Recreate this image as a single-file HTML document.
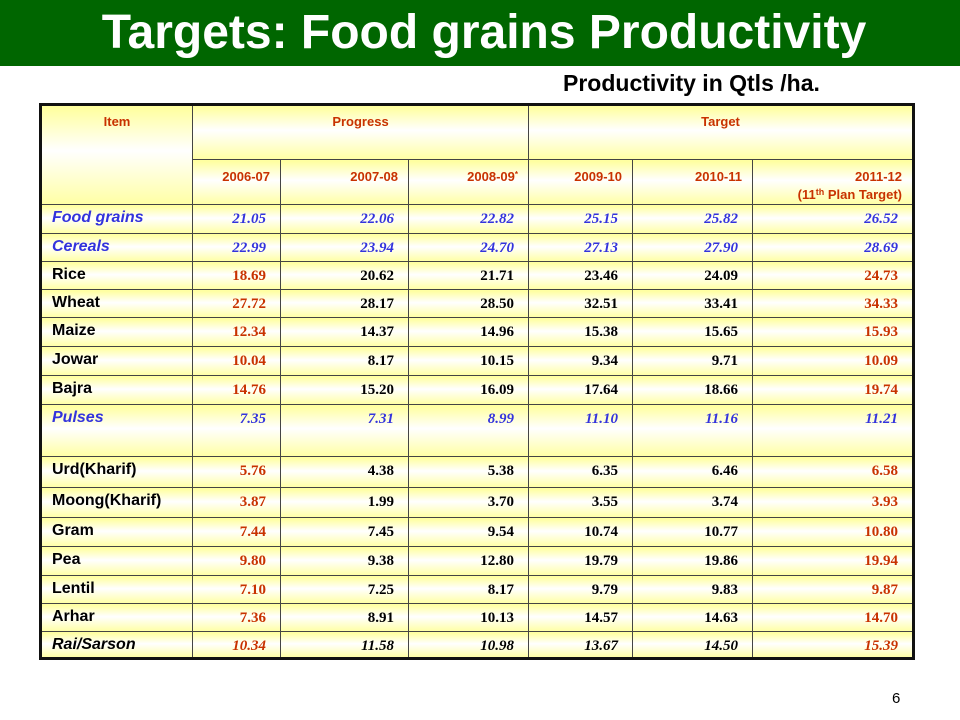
<!DOCTYPE html>
<html><head><meta charset="utf-8">
<style>
body{margin:0;width:960px;height:720px;background:#fff;position:relative;overflow:hidden;font-family:"Liberation Sans",Arial,sans-serif}
#bar{position:absolute;left:0;top:0;width:960px;height:66px;background:#006600}
#title{position:absolute;left:0;top:3px;width:968px;text-align:center;color:#fff;font-weight:bold;font-size:48px;line-height:60px}
#unit{position:absolute;left:563px;top:70px;font-weight:bold;font-size:23px;color:#000;white-space:nowrap}
#pg{position:absolute;left:892px;top:690px;font-size:15px;color:#000}
table{position:absolute;left:39px;top:103px;border-collapse:collapse;border:3px solid #111;table-layout:fixed}
td{border:1.5px solid #444;padding:0;background:linear-gradient(to bottom,#ffff9c 0%,#ffffff 45%,#ffffa4 100%);vertical-align:top}
sup{line-height:0;vertical-align:baseline;position:relative;top:-0.5em}
.h{color:#c83200;font-weight:bold;font-size:13px;text-align:center;padding-top:8px}
.y{color:#c83200;font-weight:bold;font-size:13px;text-align:right;padding:8px 10px 0 0;line-height:18px}
.it{font-weight:bold;font-size:16px;padding:4px 0 0 10px;color:#000;white-space:nowrap}
.n{font-family:"Liberation Serif",serif;font-weight:bold;font-size:15px;text-align:right;padding:6px 14px 0 0;color:#000}
.r{color:#c83200}
.b,.b td{color:#3333dd !important;font-style:italic}
.i td{font-style:italic}
</style></head><body>
<div id="bar"></div>
<div id="title">Targets: Food grains Productivity</div>
<div id="unit">Productivity in Qtls /ha.</div>
<table>
<colgroup><col style="width:152px"><col style="width:88px"><col style="width:128px"><col style="width:120px"><col style="width:104px"><col style="width:120px"><col style="width:161px"></colgroup>
<tr style="height:55px"><td rowspan="2" class="h">Item</td><td colspan="3" class="h">Progress</td><td colspan="3" class="h">Target</td></tr>
<tr style="height:45px"><td class="y">2006-07</td><td class="y">2007-08</td><td class="y">2008-09<sup style="font-size:8px">*</sup></td><td class="y">2009-10</td><td class="y">2010-11</td><td class="y">2011-12<br>(11<sup style="font-size:9px">th</sup> Plan Target)</td></tr>
<tr style="height:29px" class="b"><td class="it">Food grains</td><td class="n">21.05</td><td class="n">22.06</td><td class="n">22.82</td><td class="n">25.15</td><td class="n">25.82</td><td class="n">26.52</td></tr>
<tr style="height:28px" class="b"><td class="it">Cereals</td><td class="n">22.99</td><td class="n">23.94</td><td class="n">24.70</td><td class="n">27.13</td><td class="n">27.90</td><td class="n">28.69</td></tr>
<tr style="height:28px"><td class="it">Rice</td><td class="n r">18.69</td><td class="n">20.62</td><td class="n">21.71</td><td class="n">23.46</td><td class="n">24.09</td><td class="n r">24.73</td></tr>
<tr style="height:28px"><td class="it">Wheat</td><td class="n r">27.72</td><td class="n">28.17</td><td class="n">28.50</td><td class="n">32.51</td><td class="n">33.41</td><td class="n r">34.33</td></tr>
<tr style="height:29px"><td class="it">Maize</td><td class="n r">12.34</td><td class="n">14.37</td><td class="n">14.96</td><td class="n">15.38</td><td class="n">15.65</td><td class="n r">15.93</td></tr>
<tr style="height:29px"><td class="it">Jowar</td><td class="n r">10.04</td><td class="n">8.17</td><td class="n">10.15</td><td class="n">9.34</td><td class="n">9.71</td><td class="n r">10.09</td></tr>
<tr style="height:29px"><td class="it">Bajra</td><td class="n r">14.76</td><td class="n">15.20</td><td class="n">16.09</td><td class="n">17.64</td><td class="n">18.66</td><td class="n r">19.74</td></tr>
<tr style="height:52px" class="b"><td class="it">Pulses</td><td class="n">7.35</td><td class="n">7.31</td><td class="n">8.99</td><td class="n">11.10</td><td class="n">11.16</td><td class="n">11.21</td></tr>
<tr style="height:31px"><td class="it">Urd(Kharif)</td><td class="n r">5.76</td><td class="n">4.38</td><td class="n">5.38</td><td class="n">6.35</td><td class="n">6.46</td><td class="n r">6.58</td></tr>
<tr style="height:30px"><td class="it">Moong(Kharif)</td><td class="n r">3.87</td><td class="n">1.99</td><td class="n">3.70</td><td class="n">3.55</td><td class="n">3.74</td><td class="n r">3.93</td></tr>
<tr style="height:29px"><td class="it">Gram</td><td class="n r">7.44</td><td class="n">7.45</td><td class="n">9.54</td><td class="n">10.74</td><td class="n">10.77</td><td class="n r">10.80</td></tr>
<tr style="height:29px"><td class="it">Pea</td><td class="n r">9.80</td><td class="n">9.38</td><td class="n">12.80</td><td class="n">19.79</td><td class="n">19.86</td><td class="n r">19.94</td></tr>
<tr style="height:28px"><td class="it">Lentil</td><td class="n r">7.10</td><td class="n">7.25</td><td class="n">8.17</td><td class="n">9.79</td><td class="n">9.83</td><td class="n r">9.87</td></tr>
<tr style="height:28px"><td class="it">Arhar</td><td class="n r">7.36</td><td class="n">8.91</td><td class="n">10.13</td><td class="n">14.57</td><td class="n">14.63</td><td class="n r">14.70</td></tr>
<tr style="height:27px" class="i"><td class="it">Rai/Sarson</td><td class="n r">10.34</td><td class="n">11.58</td><td class="n">10.98</td><td class="n">13.67</td><td class="n">14.50</td><td class="n r">15.39</td></tr>
</table>
<div id="pg">6</div>
</body></html>
